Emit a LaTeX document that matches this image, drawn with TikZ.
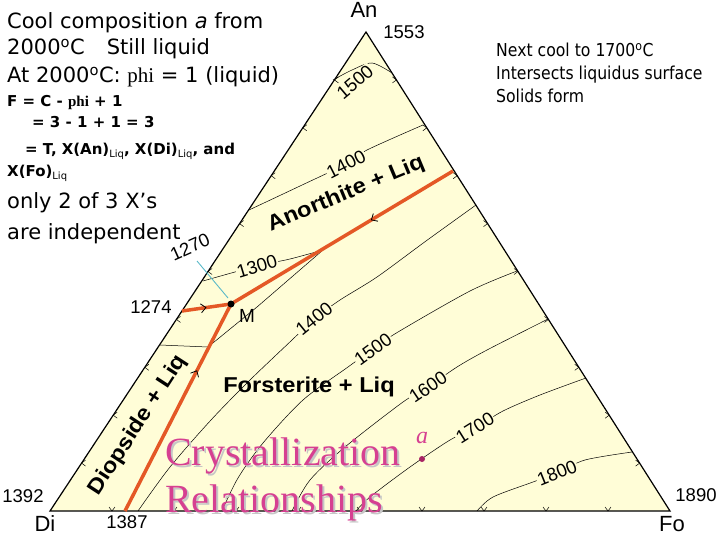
\documentclass[tikz,border=0pt]{standalone}
\usepackage{fontspec}
\setmainfont{DejaVu Sans}
\newfontfamily\helv{Liberation Sans}
\newfontfamily\helvw[FakeStretch=1.1]{Liberation Sans}
\newfontfamily\tms{Liberation Serif}
\newfontfamily\tah[FakeStretch=0.88]{DejaVu Sans}
\usetikzlibrary{arrows.meta,calc,decorations.markings}
\definecolor{paper}{RGB}{255,253,215}
\definecolor{cotec}{RGB}{228,88,38}
\definecolor{rose}{RGB}{214,64,145}
\definecolor{plum}{RGB}{168,36,100}
\definecolor{tieline}{RGB}{90,185,200}
\newcommand\fs[1]{\fontsize{#1}{#1}\selectfont}
\newcommand\liqsub{\raisebox{-3pt}{\fs{10}\mdseries Liq}}
\begin{document}
\begin{tikzpicture}[x=1pt,y=-1pt,>=Latex,
 txt/.style={anchor=base west,inner sep=0pt,font=\fs{21}},
 small/.style={anchor=base west,inner sep=0pt,font=\fs{15}\bfseries},
 side/.style={anchor=base west,inner sep=0pt,font=\tah\fs{17.8}},
 num/.style={inner sep=0.5pt,font=\helv\fs{18.5}},
 iso/.style={line width=0.5pt},
 isol/.style={num,fill=paper,inner sep=1pt},
 field/.style={font=\helvw\bfseries\fs{21.5},inner sep=0pt},
 corner/.style={font=\helv\fs{22},inner sep=0pt},
 big/.style={anchor=base west,inner sep=0pt,font=\tms\fs{40}},
 cot/.style={draw=cotec,line width=3.5pt,postaction={decorate},
  decoration={markings,mark=at position #1 with
  {\arrow{Straight Barb[color=black,line width=0.8pt,length=5pt,width=9pt]}}}},
 tick/.style={line width=0.5pt}]
\useasboundingbox (0,0) rectangle (720,540);
\coordinate (Di) at (50,511);
\coordinate (Fo) at (670,511);
\coordinate (An) at (366,32);
\coordinate (M) at (231,304);
\coordinate (E) at (125,511);
\coordinate (B) at (182,311);
\coordinate (P) at (453,171);
\fill[paper] (Di) -- (Fo) -- (An) -- cycle;

% isotherms, anorthite field
\draw[iso] plot[smooth] coordinates {(333,80) (352,70) (372,63) (392,73)};
\draw[iso] plot[smooth] coordinates {(249,210) (300,186) (346,164) (367,150) (423,125)};
\draw[iso] plot[smooth] coordinates {(203,281) (257,266) (290,259) (323,250)};
\draw[iso] (323,250) -- (257,307) -- (208,347) -- (160,345);
% isotherms, forsterite field
\draw[iso] plot[smooth] coordinates {(476,205) (426,241) (377,277) (340,300) (314,319)
 (292,340) (250,380) (211,420) (170,467) (138,511)};
\draw[iso] plot[smooth] coordinates {(517,271) (470,291) (398,332) (373,349) (348,367)
 (303,400) (263,443) (238,478) (222,511)};
\draw[iso] plot[smooth] coordinates {(548,319) (487,350) (457,367) (428,387) (403,402)
 (345,447) (310,480) (292,511)};
\draw[iso] plot[smooth] coordinates {(586,378) (540,395) (503,411) (475,428) (450,440)
 (410,467) (370,497) (356,511)};
\draw[iso] plot[smooth] coordinates {(632,452) (585,460) (557,473) (533,482) (493,497) (477,511)};

\node[isol,rotate=40] (t15a) at (355,82) {1500};
\node[isol,rotate=27] (t14a) at (346,164) {1400};
\node[isol,rotate=17] (t13a) at (257,266) {1300};
\node[isol,rotate=39] (t14b) at (314,319) {1400};
\node[isol,rotate=36] (t15b) at (373,349) {1500};
\node[isol,rotate=34] (t16b) at (428,387) {1600};
\node[isol,rotate=32] (t17b) at (475,428) {1700};
\node[isol,rotate=22] (t18b) at (557,473) {1800};

\draw[line width=1.2pt,line join=miter] (Di) -- (Fo) -- (An) -- cycle;
\foreach \k in {1,...,9}{
 \draw[tick] ($(Di)!\k/10!(An)$) ++(4,-3) -- ++(-4,3) -- ++(4,3);
 \draw[tick] ($(Fo)!\k/10!(An)$) ++(-4,-3) -- ++(4,3) -- ++(-4,3);
 \draw[tick] ($(Di)!\k/10!(Fo)$) ++(-3,-4) -- ++(3,4) -- ++(3,-4);
}

\draw[tieline,line width=0.9pt] (228,298) -- (197,261);
\draw[cot=0.68] (E) -- (M);
\draw[cot=0.5] (B) -- (M);
\draw[cot=0.37] (P) -- (M);
\fill (M) circle (3.5pt);

\node[corner] (an) at (364,10) {An};
\node[corner] (di) at (45,524) {Di};
\node[corner] (fo) at (672,524) {Fo};
\node[num] (t1553) at (404,32) {1553};
\node[num] (t1392) at (23,496) {1392};
\node[num] (t1387) at (127,522) {1387};
\node[num] (t1890) at (696,495) {1890};
\node[num] (t1274) at (151,307) {1274};
\node[num,rotate=24] (t1270) at (190,247) {1270};
\node[num,font=\helv\fs{19}] (mlab) at (247,316) {M};

\node[field,rotate=22.6] (anliq) at (346,194) {Anorthite + Liq};
\node[field,anchor=base] (foliq) at (309,392) {Forsterite + Liq};
\node[field,rotate=57] (diliq) at (138,425) {Diopside + Liq};

\node[big,text=gray!45] at (167,467) {Crystallization};
\node[big,text=gray!45] at (167,514) {Relationships};
\node[big,text=rose] (cry) at (165,465) {Crystallization};
\node[big,text=rose] (rel) at (165,512) {Relationships};
\fill[plum] (422,459) circle (3pt);
\node[font=\tms\itshape\fs{24},text=rose,inner sep=0pt] (alab) at (422,438) {a};

\node[txt] (l1) at (7,29) {Cool composition \textit{a} from};
\node[txt] (l2) at (7,55) {2000\textsuperscript{o}C\hspace{22pt}Still liquid};
\node[txt] (l3) at (7,83) {At 2000\textsuperscript{o}C: {\tms phi} = 1 (liquid)};
\node[small] (l4) at (7,107) {F = C - {\tms\bfseries phi} + 1};
\node[small] (l5) at (32,128) {= 3 - 1 + 1 = 3};
\node[small] (l6) at (25,155) {= T,\hspace{5pt}X(An)\liqsub, X(Di)\liqsub, and};
\node[small] (l7) at (7,177) {X(Fo)\liqsub};
\node[txt] (l8) at (7,209) {only 2 of 3 X’s};
\node[txt] (l9) at (7,240) {are independent};

\node[side] (r1) at (496,57) {Next cool to 1700\textsuperscript{o}C};
\node[side] (r2) at (496,80) {Intersects liquidus surface};
\node[side] (r3) at (496,103) {Solids form};
\end{tikzpicture}
\end{document}
